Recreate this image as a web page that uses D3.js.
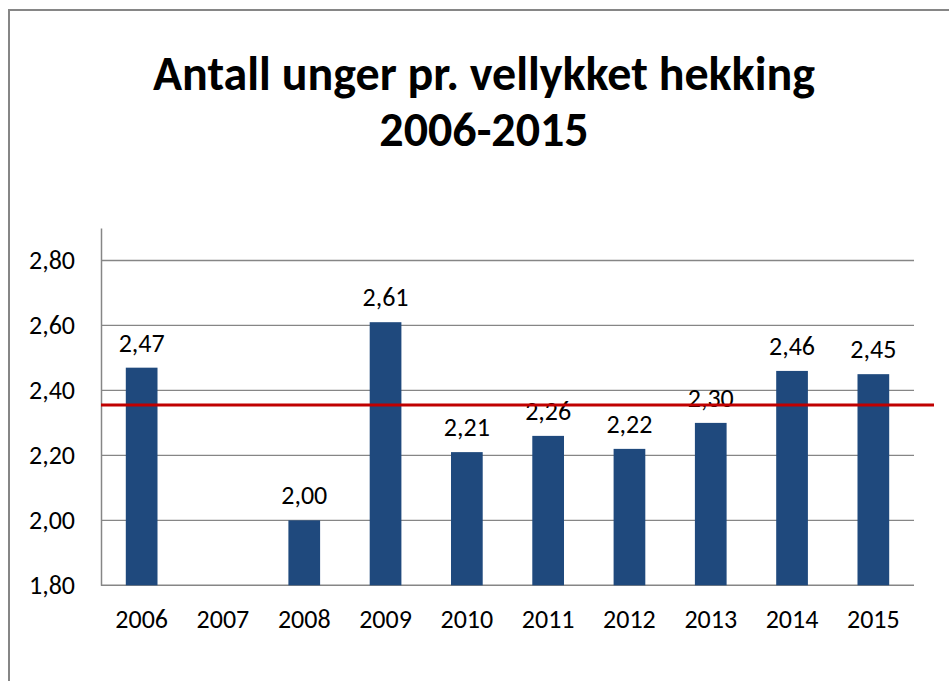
<!DOCTYPE html>
<html><head><meta charset="utf-8">
<script src="https://cdn.jsdelivr.net/npm/d3@7/dist/d3.min.js"></script>
<style>body{margin:0;background:#fff}svg{display:block}</style>
</head><body>
<script>
const years = ["2006","2007","2008","2009","2010","2011","2012","2013","2014","2015"];
const values = [2.47, null, 2.00, 2.61, 2.21, 2.26, 2.22, 2.30, 2.46, 2.45];
const yTicks = [1.80, 2.00, 2.20, 2.40, 2.60, 2.80];
const averageLine = 2.355;
const titleLines = ["Antall unger pr. vellykket hekking", "2006-2015"];

(function () {
const W = 949, H = 681;
const font = "Carlito, Lato, 'Open Sans', sans-serif";
const svg = d3.select("body").append("svg").attr("width", W).attr("height", H);

// chart border
svg.append("rect").attr("x", 9).attr("y", 10).attr("width", W + 20).attr("height", H + 20)
  .attr("fill", "#fff").attr("stroke", "#868686").attr("stroke-width", 2);

const pLeft = 101, pRight = 914, pTop = 228, pBottom = 585.3;
const x = d3.scaleBand().domain(years).range([pLeft, pRight]).paddingInner(0.61).paddingOuter(0.305);
const y = d3.scaleLinear().domain([1.8, 2.9]).range([pBottom, pTop]);

// gridlines
svg.append("g").selectAll("line").data(yTicks.slice(1)).join("line")
  .attr("x1", pLeft).attr("x2", pRight).attr("y1", d => y(d)).attr("y2", d => y(d))
  .attr("stroke", "#868686").attr("stroke-width", 1.3);

// y axis
const yAxis = d3.axisLeft(y).tickValues(yTicks).tickSize(0).tickPadding(26)
  .tickFormat(d => d3.format(".2f")(d).replace(".", ","));
const gy = svg.append("g").attr("transform", `translate(${pLeft},0)`).call(yAxis);
gy.select(".domain").attr("stroke", "#868686").attr("stroke-width", 1.5);
gy.selectAll("text").attr("font-family", font).attr("font-size", 26).attr("fill", "#000");

// x axis
const xAxis = d3.axisBottom(x).tickSize(0).tickPadding(24);
const gx = svg.append("g").attr("transform", `translate(0,${pBottom})`).call(xAxis);
gx.select(".domain").attr("stroke", "#868686").attr("stroke-width", 1.5).attr("d", `M${pLeft},0H${pRight}`);
gx.selectAll("text").attr("font-family", font).attr("font-size", 26).attr("fill", "#000");

const data = years.map((yr, i) => ({yr, v: values[i]})).filter(d => d.v != null);

// bars
svg.append("g").selectAll("rect").data(data).join("rect")
  .attr("x", d => x(d.yr)).attr("width", x.bandwidth())
  .attr("y", d => y(d.v)).attr("height", d => pBottom - y(d.v))
  .attr("fill", "#1f497d");

// data labels
svg.append("g").selectAll("text").data(data).join("text")
  .attr("x", d => x(d.yr) + x.bandwidth() / 2).attr("y", d => y(d.v) - 16)
  .attr("text-anchor", "middle").attr("font-family", font).attr("font-size", 26).attr("fill", "#000")
  .text(d => d3.format(".2f")(d.v).replace(".", ","));

// red line
svg.append("line").attr("x1", pLeft).attr("x2", 934)
  .attr("y1", y(averageLine)).attr("y2", y(averageLine))
  .attr("stroke", "#c00000").attr("stroke-width", 3);

// title
svg.append("g").selectAll("text").data(titleLines).join("text")
  .attr("x", 484).attr("y", (d, i) => 90 + i * 56)
  .attr("text-anchor", "middle").attr("font-family", font).attr("font-weight", "bold")
  .attr("font-size", 48).attr("fill", "#000").text(d => d);
})();
</script>
</body></html>
